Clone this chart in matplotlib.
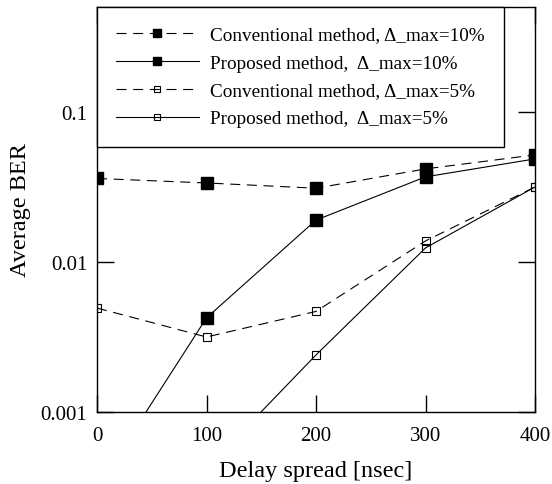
import numpy as np
import matplotlib.pyplot as plt
from matplotlib.ticker import FixedLocator, FixedFormatter, NullLocator

plt.rcParams['font.family'] = ['Liberation Serif', 'DejaVu Serif']

# Data
delay = [0, 100, 200, 300, 400]
conv_10 = [0.036, 0.0336, 0.031, 0.0417, 0.0517]
prop_10 = [0.00031, 0.00424, 0.019, 0.0369, 0.0486]
conv_5 = [0.00493, 0.00316, 0.00468, 0.0138, 0.0316]
prop_5 = [0.00007, 0.00042, 0.0024, 0.0124, 0.0316]

labels = [
    "Conventional method, \u0394_max=10%",
    "Proposed method,  \u0394_max=10%",
    "Conventional method, \u0394_max=5%",
    "Proposed method,  \u0394_max=5%",
]

fig = plt.figure(figsize=(5.52, 4.85), dpi=100)
ax = fig.add_axes([97 / 552, 1 - 413 / 485, (535 - 97) / 552, (413 - 8) / 485])

dash = (0, (9, 6))
ax.plot(delay, conv_10, color='black', lw=0.8, linestyle=dash, marker='s', ms=8.5,
        mfc='black', mec='black', label=labels[0])
ax.plot(delay, prop_10, color='black', lw=0.8, linestyle='-', marker='s', ms=8.5,
        mfc='black', mec='black', label=labels[1])
ax.plot(delay, conv_5, color='black', lw=0.8, linestyle=dash, marker='s', ms=6,
        mfc='none', mec='black', mew=0.8, label=labels[2])
ax.plot(delay, prop_5, color='black', lw=0.8, linestyle='-', marker='s', ms=6,
        mfc='none', mec='black', mew=0.8, label=labels[3])

ax.set_yscale('log')
ax.set_ylim(0.001, 0.5)
ax.set_xlim(0, 400)
ax.yaxis.set_major_locator(FixedLocator([0.001, 0.01, 0.1]))
ax.yaxis.set_major_formatter(FixedFormatter(['0.001', '0.01', '0.1']))
ax.yaxis.set_minor_locator(NullLocator())
ax.set_xticks([0, 100, 200, 300, 400])

ax.tick_params(axis='both', which='major', direction='in', length=12, width=1,
               labelsize=15, top=True, right=True)
ax.tick_params(axis='x', pad=10)
ax.tick_params(axis='y', pad=7)
for s in ax.spines.values():
    s.set_linewidth(1)

ax.set_xlabel("Delay spread [nsec]", fontsize=17.5, labelpad=11)
ax.set_ylabel("Average BER", fontsize=17.5, labelpad=7)

leg = ax.legend(loc='upper left', bbox_to_anchor=(0, 1), fontsize=13.8, frameon=True,
                fancybox=False, edgecolor='black', framealpha=1, borderaxespad=0,
                handlelength=4.3, handletextpad=0.6, labelspacing=0.55,
                borderpad=1.0, markerscale=0.7)
leg.get_frame().set_linewidth(1)

fig.savefig('out.png', dpi=100)
